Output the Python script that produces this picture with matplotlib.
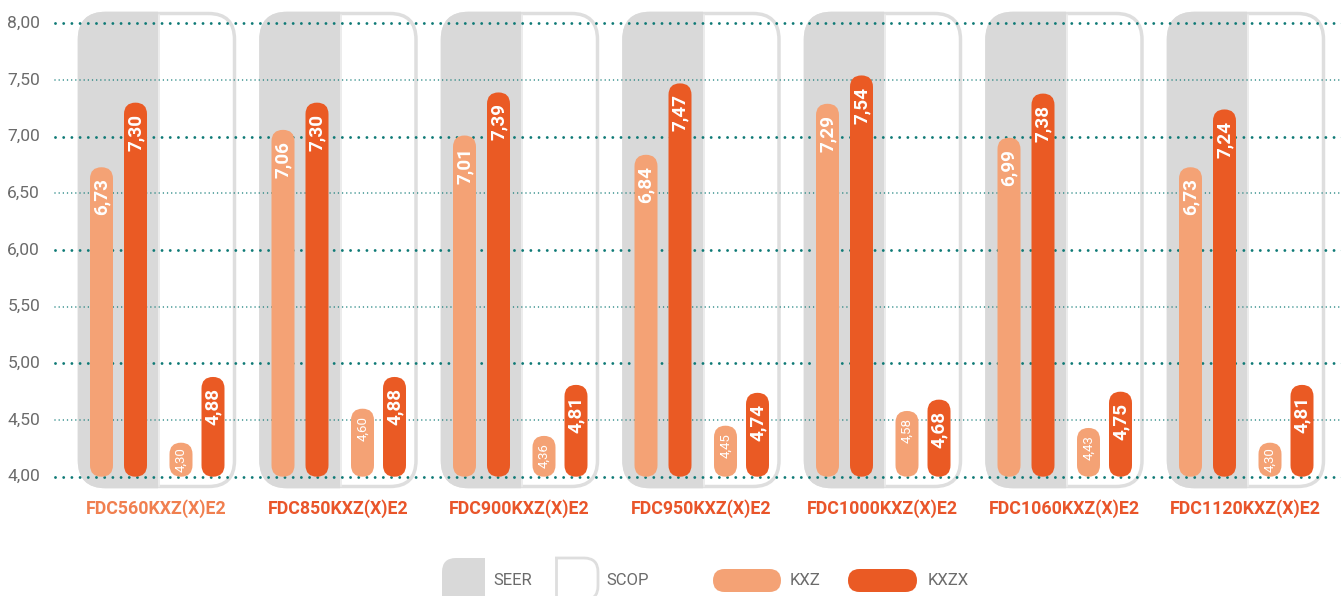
import matplotlib
matplotlib.use('Agg')
import matplotlib.pyplot as plt
from matplotlib.patches import FancyBboxPatch, Rectangle

# ---------------- data ----------------
categories = ["FDC560KXZ(X)E2", "FDC850KXZ(X)E2", "FDC900KXZ(X)E2", "FDC950KXZ(X)E2",
              "FDC1000KXZ(X)E2", "FDC1060KXZ(X)E2", "FDC1120KXZ(X)E2"]
seer_kxz = [6.73, 7.06, 7.01, 6.84, 7.29, 6.99, 6.73]
seer_kxzx = [7.30, 7.30, 7.39, 7.47, 7.54, 7.38, 7.24]
scop_kxz = [4.30, 4.60, 4.36, 4.45, 4.58, 4.43, 4.30]
scop_kxzx = [4.88, 4.88, 4.81, 4.74, 4.68, 4.75, 4.81]
y_ticks = [4.00, 4.50, 5.00, 5.50, 6.00, 6.50, 7.00, 7.50, 8.00]
legend_labels = ["SEER", "SCOP", "KXZ", "KXZX"]

# ---------------- style ----------------
C_KXZ = '#F4A275'
C_KXZX = '#EA5A24'
C_GRAY = '#D9D9D9'
C_BORDER = '#DEDEDE'
C_GRID = '#0F7A76'
C_TXT = '#6B6B6B'
C_CAT = ['#F07F4F'] + ['#E9552A'] * 6

FONT = 'Roboto'
plt.rcParams['lines.scale_dashes'] = False

W, H = 1341, 596
fig = plt.figure(figsize=(W / 100, H / 100), dpi=100)
ax = fig.add_axes([0, 0, 1, 1])
ax.set_axis_off()

PX = 181.5     # pixels per category step
PY = 113.35    # pixels per value unit
X0 = 156.5     # pixel x of first category centre
Y8 = 23.3      # pixel y of value 8.00
ax.set_xlim(-X0 / PX, (W - X0) / PX)
ax.set_ylim(8 - (H - Y8) / PY, 8 + Y8 / PY)
ASP = PX / PY


def dx(p):
    return p / PX


def dy(p):
    return p / PY


def X(px):
    return (px - X0) / PX


def Y(py):
    return 8 - (py - Y8) / PY


# ---------------- group boxes ----------------
R_BOX = 26
for i in range(len(categories)):
    left = i + dx(-77)
    right = i + dx(78)
    bot = Y(486.5)
    top = Y(13.5)
    kw = dict(boxstyle=f"round,pad=0,rounding_size={dx(R_BOX)}", mutation_aspect=ASP)
    outer = FancyBboxPatch((left, bot), right - left, top - bot, fc='white', ec=C_BORDER,
                           lw=2.5, zorder=1, **kw)
    ax.add_patch(outer)
    gray = FancyBboxPatch((left, bot), right - left, top - bot, fc=C_GRAY, ec=C_GRAY,
                          lw=2.5, zorder=1.1, **kw)
    ax.add_patch(gray)
    clip = Rectangle((i + dx(-90), Y(500)), dx(90 + 1.5), Y(0) - Y(500), transform=ax.transData)
    gray.set_clip_path(clip)
    ax.plot([i + dx(2.5), i + dx(2.5)], [bot + dy(1), top - dy(1)], color='#E9E9E9',
            lw=1.2, zorder=1.2)

# ---------------- grid ----------------
for t in y_ticks:
    major = abs(t - round(t)) < 1e-9
    if major:
        ax.plot([X(55), X(W + 5)], [t, t], color=C_GRID, lw=2.1,
                ls=(0, (0.001, 5.9)), dash_capstyle='round', zorder=2)
    else:
        ax.plot([X(55), X(W + 5)], [t, t], color=C_GRID, lw=1.1,
                ls=(0, (0.001, 3.0)), dash_capstyle='round', zorder=2)
    ax.text(X(40), t, f"{t:.2f}".replace('.', ','), ha='right', va='center',
            fontsize=12.5, color=C_TXT, family=FONT)

# ---------------- bars ----------------
BW = 23
series = [(seer_kxz, -55, C_KXZ, False), (seer_kxzx, -21, C_KXZX, False),
          (scop_kxz, 24.5, C_KXZ, True), (scop_kxzx, 56.5, C_KXZX, False)]
for vals, off, col, small in series:
    for i, v in enumerate(vals):
        xc = i + dx(off)
        bar = FancyBboxPatch((xc - dx(BW / 2), 4.0), dx(BW), v - 4.0,
                             boxstyle=f"round,pad=0,rounding_size={dx(BW / 2)}",
                             mutation_aspect=ASP, fc=col, ec='none', zorder=3)
        ax.add_patch(bar)
        lab = f"{v:.2f}".replace('.', ',')
        if small:
            hpx = (v - 4.0) * PY
            gap = min(7, max(2, (hpx - 25) / 2))
            ax.text(xc, v - dy(gap), lab, rotation=90, ha='center', va='top',
                    fontsize=9.5, color='white', family=FONT, zorder=4)
        else:
            ax.text(xc, v - dy(11), lab, rotation=90, ha='center', va='top',
                    fontsize=13.6, fontweight='bold', color='white', family=FONT, zorder=4)

# ---------------- category labels ----------------
for i, c in enumerate(categories):
    ax.text(i, Y(509), c, ha='center', va='center', fontsize=12.8, fontweight='bold',
            color=C_CAT[i], family=FONT)

# ---------------- legend ----------------
LR = 14
g = FancyBboxPatch((X(442), Y(625)), X(520) - X(442), Y(558) - Y(625),
                   boxstyle=f"round,pad=0,rounding_size={dx(LR)}", mutation_aspect=ASP,
                   fc=C_GRAY, ec='none', zorder=1)
ax.add_patch(g)
g.set_clip_path(Rectangle((X(430), Y(640)), X(485) - X(430), Y(540) - Y(640),
                          transform=ax.transData))
wbox = FancyBboxPatch((X(520), Y(600)), X(598) - X(520), Y(558) - Y(600),
                      boxstyle=f"round,pad=0,rounding_size={dx(LR)}", mutation_aspect=ASP,
                      fc='white', ec=C_BORDER, lw=2.0, zorder=1)
ax.add_patch(wbox)
wbox.set_clip_path(Rectangle((X(554.5), Y(640)), X(620) - X(554.5), Y(540) - Y(640),
                             transform=ax.transData))
ax.plot([X(555.5), X(555.5)], [Y(558), Y(600)], color=C_BORDER, lw=2.0, zorder=1,
        solid_capstyle='butt')

for x0, x1, col in [(713, 781, C_KXZ), (848, 917, C_KXZX)]:
    pill = FancyBboxPatch((X(x0), Y(592)), X(x1) - X(x0), Y(569) - Y(592),
                          boxstyle=f"round,pad=0,rounding_size={dx(11.5)}",
                          mutation_aspect=ASP, fc=col, ec='none', zorder=1)
    ax.add_patch(pill)

for xt, lab in zip([493, 606, 790, 928], legend_labels):
    ax.text(X(xt), Y(580.5), lab, ha='left', va='center', fontsize=12, color=C_TXT,
            family=FONT)

fig.savefig('out.png', dpi=100)
